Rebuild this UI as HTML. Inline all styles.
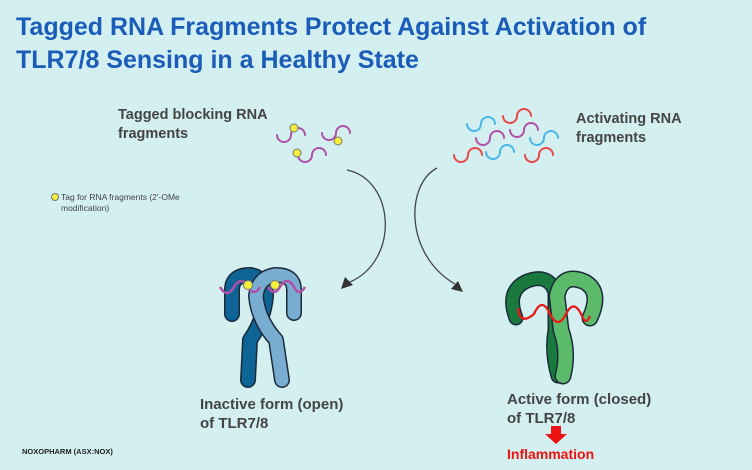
<!DOCTYPE html>
<html><head><meta charset="utf-8"><style>
body{margin:0;width:752px;height:470px;background:#d3efef;position:relative;overflow:hidden;font-family:"Liberation Sans",sans-serif}
.t{position:absolute;color:#1a5cb8;font-weight:bold;font-size:25px;left:16px;line-height:33px}
.l{position:absolute;color:#444;font-weight:bold;font-size:14.5px;line-height:19px}
</style></head><body>
<div class="t" style="top:11px">Tagged RNA Fragments Protect Against Activation of<br>TLR7/8 Sensing in a Healthy State</div>
<div class="l" style="left:118px;top:106px">Tagged blocking RNA<br>fragments</div>
<div class="l" style="left:576px;top:110px">Activating RNA<br>fragments</div>
<div class="l" style="left:200px;top:395px;font-size:15px">Inactive form (open)<br>of TLR7/8</div>
<div class="l" style="left:507px;top:390px;font-size:15px">Active form (closed)<br>of TLR7/8</div>
<div style="position:absolute;left:61px;top:192px;font-size:8.5px;color:#444;line-height:11px">Tag for RNA fragments (2'-OMe<br>modification)</div>
<div style="position:absolute;left:22px;top:447px;font-size:7.5px;font-weight:bold;color:#222">NOXOPHARM (ASX:NOX)</div>
<div style="position:absolute;left:507px;top:446px;font-size:14px;font-weight:bold;color:#ee1111">Inflammation</div>
<svg width="752" height="470" style="position:absolute;left:0;top:0" fill="none">
<defs><path id="sq" d="M0,0 a7,7 0 0 0 14,0 a7,7 0 0 1 14,0" stroke-width="2" stroke-linecap="round"/></defs>
<circle cx="55" cy="197" r="3.5" fill="#f5f03a" stroke="#777"/>
<g stroke="#b050a8"><use href="#sq" x="277" y="135"/><use href="#sq" x="322" y="133"/><use href="#sq" x="298" y="155"/></g>
<g fill="#f5f03a" stroke="#777"><circle cx="294" cy="128" r="4"/><circle cx="338" cy="141" r="4"/><circle cx="297" cy="153" r="4"/></g>
<g stroke="#4ab8e6"><use href="#sq" x="467" y="124"/><use href="#sq" x="486" y="152"/><use href="#sq" x="530" y="138"/></g>
<g stroke="#e84848"><use href="#sq" x="503" y="116"/><use href="#sq" x="454" y="155"/><use href="#sq" x="525" y="155"/></g>
<g stroke="#b050a8"><use href="#sq" x="476" y="138"/><use href="#sq" x="510" y="130"/></g>
<path d="M347,170 C395,180 400,260 350,282" stroke="#445" stroke-width="1.3"/>
<path d="M341,289 l4,-12 l8,8 z" fill="#333"/>
<path d="M437,168 C405,185 405,255 455,284" stroke="#445" stroke-width="1.3"/>
<path d="M463,292 l-12,-3 l7,-8 z" fill="#333"/>
<g stroke-linecap="round" stroke-linejoin="round">
<path d="M232,314 L232,290 Q232,275 250,275 Q266,277 266,296 Q264,320 250,340 L248,380" stroke="#1a2a3a" stroke-width="16"/>
<path d="M232,314 L232,290 Q232,275 250,275 Q266,277 266,296 Q264,320 250,340 L248,380" stroke="#0f6496" stroke-width="13"/>
<path d="M294,313 L294,290 Q294,275 276,275 Q258,277 256,296 Q258,320 276,340 L282,380" stroke="#1a2a3a" stroke-width="16"/>
<path d="M294,313 L294,290 Q294,275 276,275 Q258,277 256,296 Q258,320 276,340 L282,380" stroke="#78acd0" stroke-width="13"/>
</g>
<path d="M220,287 q7,12 14,0 q7,-12 14,0 q6,10 12,0 M268,287 q6,10 12,0 q7,-12 14,0 q5,10 11,0" stroke="#b050a8" stroke-width="2.5"/>
<g fill="#f5f03a" stroke="#777"><circle cx="248" cy="285" r="4.5"/><circle cx="275" cy="285" r="4.5"/></g>
<g stroke-linecap="round" stroke-linejoin="round">
<path d="M516,318 Q506,292 525,282 Q548,272 555,292 L555,330 Q551,352 558,376" stroke="#1a2a3a" stroke-width="15"/>
<path d="M516,318 Q506,292 525,282 Q548,272 555,292 L555,330 Q551,352 558,376" stroke="#1a7a3e" stroke-width="12"/>
<path d="M590,318 Q602,292 585,282 Q562,272 557,296 L561,330 Q569,352 563,376" stroke="#1a2a3a" stroke-width="17"/>
<path d="M590,318 Q602,292 585,282 Q562,272 557,296 L561,330 Q569,352 563,376" stroke="#5cbb6a" stroke-width="14"/>
</g>
<path d="M518,308 q2,18 16,6 q8,-18 16,0 q8,16 16,0 q8,-16 16,2 q4,10 8,0" stroke="#e81818" stroke-width="2.3"/>
<path d="M551,426 h10 v8 h6 l-11,10 l-11,-10 h6z" fill="#ee1111"/>
</svg>
</body></html>
